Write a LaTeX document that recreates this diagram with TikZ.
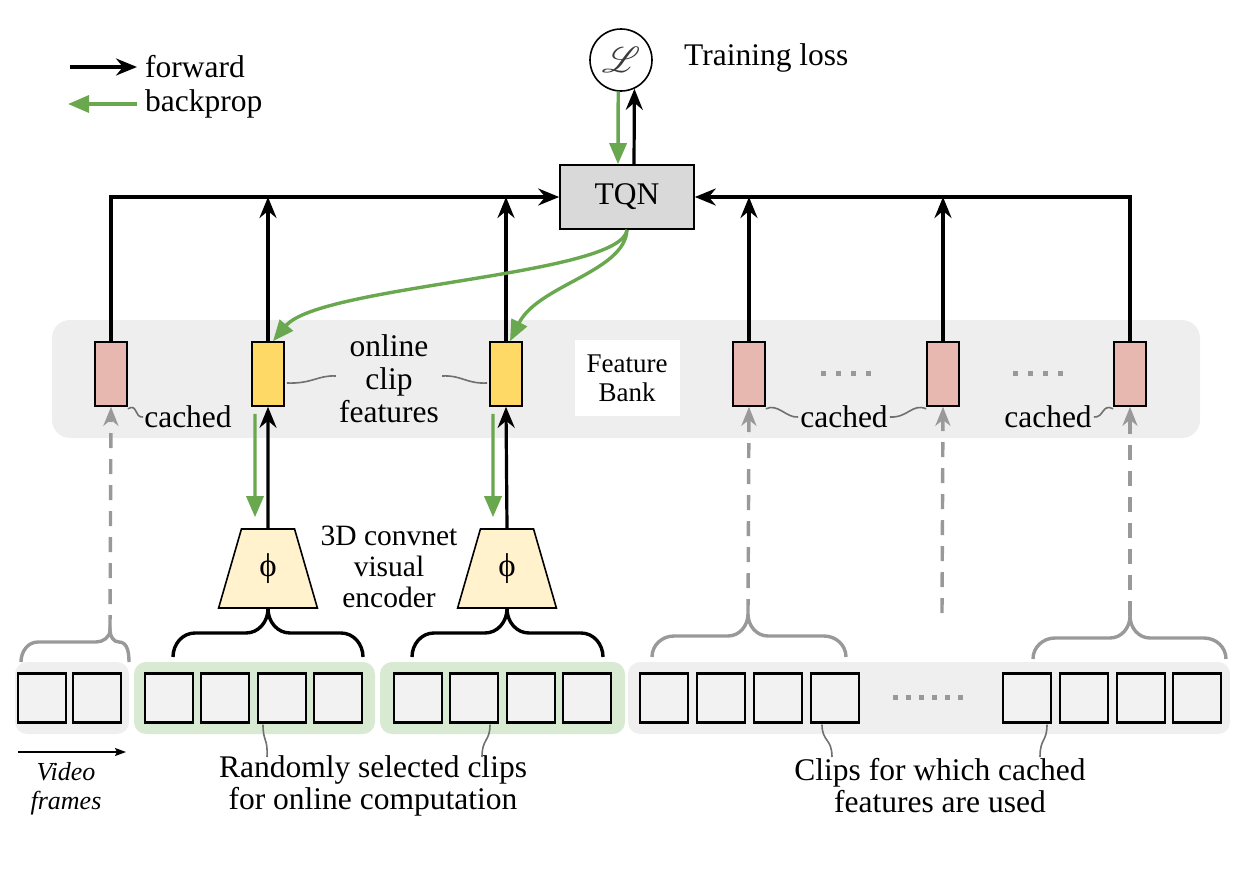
\documentclass[tikz,border=0pt]{standalone}
\usepackage{fontspec}
\setmainfont{Liberation Serif}
\usepackage{mathrsfs}
\usepackage{graphicx}
\usetikzlibrary{arrows.meta,calc,shapes.geometric}
\definecolor{tqnfill}{HTML}{D9D9D9}
\definecolor{pinkf}{HTML}{E6B8AF}
\definecolor{yelf}{HTML}{FFD966}
\definecolor{encf}{HTML}{FFF2CC}
\definecolor{bankbg}{HTML}{EEEEEE}
\definecolor{greenbg}{HTML}{D9EAD3}
\definecolor{graybg}{HTML}{EFEFEF}
\definecolor{framef}{HTML}{F2F2F2}
\definecolor{bp}{HTML}{6AA84F}
\definecolor{dgray}{HTML}{999999}
\definecolor{cgray}{HTML}{707070}
\definecolor{lcol}{HTML}{3A3A3A}
\begin{document}
\begin{tikzpicture}[x=1pt,y=-1pt,
  fwd/.style={line width=3.2pt,draw=black,-{Stealth[length=21pt,width=17pt,inset=7pt]}},
  bpa/.style={line width=3.4pt,draw=bp,-{Triangle[length=21pt,width=17pt]}},
  dsh/.style={line width=3.4pt,draw=dgray,dash pattern=on 15pt off 11pt,-{Stealth[length=19pt,width=15pt,inset=6pt]}},
  bracek/.style={line width=3.4pt,draw=black},
  braceg/.style={line width=3.4pt,draw=dgray},
  callout/.style={line width=1.6pt,draw=cgray},
  feat/.style={draw=black,line width=1.6pt,minimum width=32pt,minimum height=64pt,inner sep=0pt},
  frame/.style={draw=black,line width=2.2pt,fill=framef,minimum width=48pt,minimum height=49pt,inner sep=0pt},
  bgbox/.style={rounded corners=12pt,minimum height=72pt,inner sep=0pt},
  enc/.style={trapezium,trapezium angle=76,trapezium stretches=true,draw=black,line width=1.6pt,fill=encf,minimum width=99pt,minimum height=79pt,inner sep=0pt,font=\fontsize{33}{34}\selectfont},
  big/.style={font=\fontsize{31.5}{34}\selectfont,inner sep=0pt},
  lbl/.style={font=\fontsize{31.5}{33}\selectfont,inner sep=0pt,align=center},
  dots/.style={line width=5pt,draw=dgray}
]
\useasboundingbox (0,0) rectangle (1243,870);

% legend
\coordinate (fa) at (70,67); \coordinate (fb) at (137,67);
\draw[fwd] (fa) -- (fb);
\node[big,anchor=west] (fwdl) at (145,67) {forward};
\coordinate (ba) at (137,104); \coordinate (bb) at (68,104);
\draw[bpa] (ba) -- (bb);
\node[big,anchor=west] (bpl) at (145,104) {backprop};

% loss and TQN
\node[circle,draw=black,line width=1.6pt,minimum size=62pt,inner sep=0pt,text=lcol,font=\fontsize{31}{32}\selectfont] (loss) at (621,60) {\scalebox{1.45}{$\mathscr{L}$}};
\node[big,anchor=west] (lossl) at (684,58) {Training loss};
\node[draw=black,line width=1.6pt,fill=tqnfill,minimum width=134pt,minimum height=64pt,big] (tqn) at (627,197) {TQN};
\draw[fwd] ([xshift=7pt]tqn.north) -- (loss.-65);
\draw[bpa] (loss.-95) -- ([xshift=-9pt]tqn.north);

% feature bank background
\node[fill=bankbg,rounded corners=18pt,minimum width=1148pt,minimum height=118pt,inner sep=0pt] (bank) at (626,379) {};
\node[fill=white,minimum width=105pt,minimum height=76pt,inner sep=0pt,align=center,font=\fontsize{27}{29}\selectfont] (fbank) at (627,378) {Feature\\Bank};

% feature boxes
\node[feat,fill=pinkf] (f1) at (111,374) {};
\node[feat,fill=yelf] (f2) at (268,374) {};
\node[feat,fill=yelf] (f3) at (506,374) {};
\node[feat,fill=pinkf] (f4) at (749,374) {};
\node[feat,fill=pinkf] (f5) at (943,374) {};
\node[feat,fill=pinkf] (f6) at (1130,374) {};
\draw[dots,dash pattern=on 5pt off 10pt] (821,373) -- (872,373);
\draw[dots,dash pattern=on 5pt off 10pt] (1013,373) -- (1064,373);

% forward connectors to TQN
\draw[fwd] (f1.north) |- (tqn.west);
\draw[fwd] (f6.north) |- (tqn.east);
\draw[fwd] (f2.north) -- (f2.north |- tqn.west);
\draw[fwd] (f3.north) -- (f3.north |- tqn.west);
\draw[fwd] (f4.north) -- (f4.north |- tqn.east);
\draw[fwd] (f5.north) -- (f5.north |- tqn.east);

% backprop curves
\draw[bpa] (tqn.south) .. controls ($(tqn.south)+(-5,46)$) and (320,285) .. ([xshift=5pt]f2.north);
\draw[bpa] (tqn.south) .. controls ($(tqn.south)+(-2,42)$) and (538,285) .. ([xshift=4pt]f3.north);

% labels in bank
\node[lbl] (onl) at (389,379) {online\\clip\\features};
\node[lbl] (ca1) at (188,417) {cached};
\node[lbl] (ca2) at (844,417) {cached};
\node[lbl] (ca3) at (1048,417) {cached};
\draw[callout] ([yshift=-2pt]f1.south east) .. controls (138,403) and (134,418) .. ([xshift=-1pt]ca1.west);
\draw[callout] ([yshift=-2pt]f4.south east) .. controls (778,403) and (786,418) .. ([xshift=-2pt]ca2.west);
\draw[callout] ([xshift=2pt]ca2.east) .. controls (908,418) and (912,403) .. ([yshift=-2pt]f5.south west);
\draw[callout] ([xshift=2pt]ca3.east) .. controls (1104,418) and (1102,403) .. ([yshift=-2pt]f6.south west);
\draw[callout] ($(f2.east)+(2,9)$) .. controls (312,384) and (318,375) .. ($(onl.west)+(-3,-3)$);
\draw[callout] ($(onl.east)+(3,-3)$) .. controls (462,375) and (466,384) .. ($(f3.west)+(-2,9)$);

% encoders
\node[enc] (e1) at (268,568.5) {ϕ};
\node[enc] (e2) at (507,568.5) {ϕ};
\node[font=\fontsize{29.5}{31}\selectfont,inner sep=0pt,align=center] (conv) at (389,567) {3D convnet\\visual\\encoder};
\draw[fwd] (e1.north) -- (f2.south);
\draw[fwd] (e2.north) -- (f3.south);
\draw[bpa] ($(f2.south)+(-13,7)$) -- ($(e1.north)+(-13,-11)$);
\draw[bpa] ($(f3.south)+(-13,7)$) -- ($(e2.north)+(-14,-11)$);

% frame backgrounds
\node[bgbox,fill=graybg,minimum width=114pt] (bgl) at (72,698) {};
\node[bgbox,fill=greenbg,minimum width=241pt] (bg1) at (254.5,698) {};
\node[bgbox,fill=greenbg,minimum width=245pt] (bg2) at (502.5,698) {};
\node[bgbox,fill=graybg,minimum width=602pt] (bgr) at (929,698) {};

% frames
\foreach \x [count=\i] in {42,97,169,225,282,338,418,474,531,587,664,721,778,835,1027,1084,1141,1197}
  \node[frame] (fr\i) at (\x,698) {};
\draw[dots,dash pattern=on 5pt off 8pt] (893,697) -- (968,697);

% braces
\draw[bracek] (173,657) to[out=90,in=180] (195,633) -- (246,633) to[out=0,in=-90] (e1.south) to[out=-90,in=180] (290,633) -- (341,633) to[out=0,in=90] (363,657);
\draw[bracek] (412,657) to[out=90,in=180] (434,633) -- (485,633) to[out=0,in=-90] (e2.south) to[out=-90,in=180] (529,633) -- (581,633) to[out=0,in=90] (603,657);
\coordinate (gc1) at (110,630);
\coordinate (gc2) at (748,614);
\coordinate (gc3) at (942,613);
\coordinate (gc4) at (1130,616);
\draw[braceg] (21,662) to[out=90,in=180] (38,642) -- (96,642) to[out=0,in=-90] (gc1) to[out=-90,in=180] (119,642) to[out=0,in=90] (129,662);
\draw[braceg] (652,657) to[out=90,in=180] (674,636) -- (728,636) to[out=0,in=-90] (gc2) to[out=-90,in=180] (768,636) -- (824,636) to[out=0,in=90] (846,657);
\draw[braceg] (1033,659) to[out=90,in=180] (1055,638) -- (1110,638) to[out=0,in=-90] (gc4) to[out=-90,in=180] (1150,638) -- (1204,638) to[out=0,in=90] (1226,659);

% dashed cached arrows
\draw[dsh] (gc1) -- (f1.south);
\draw[dsh] (gc2) -- (f4.south);
\draw[dsh] (gc3) -- (f5.south);
\draw[dsh] (gc4) -- (f6.south);

% bottom labels
\node[lbl,font=\fontsize{31.5}{32}\selectfont] (rsel) at (373,786) {Randomly selected clips\\for online computation};
\node[lbl,font=\fontsize{31.5}{32}\selectfont] (cfw) at (940,786) {Clips for which cached\\features are used};
\coordinate (t1) at (267,757);
\coordinate (t2) at (482,757);
\coordinate (t3) at (832,757);
\coordinate (t4) at (1040,757);
\draw[callout] ($(fr5.south)+(-19,1)$) .. controls (263,742) and (268,738) .. (t1);
\draw[callout] ($(fr8.south)+(16,1)$) .. controls (490,742) and (482,738) .. (t2);
\draw[callout] ($(fr14.south)+(-13,1)$) .. controls (822,742) and (832,738) .. (t3);
\draw[callout] ($(fr15.south)+(20,1)$) .. controls (1047,742) and (1040,738) .. (t4);

% video frames
\coordinate (va) at (18,752); \coordinate (vb) at (126,752);
\draw[line width=1.3pt,-{Stealth[length=11pt,width=8pt,inset=2pt]}] (va) -- (vb);
\node[font=\fontsize{26}{29}\selectfont\itshape,inner sep=0pt,align=center] (vid) at (66,789) {Video\\frames};
\end{tikzpicture}
\end{document}
